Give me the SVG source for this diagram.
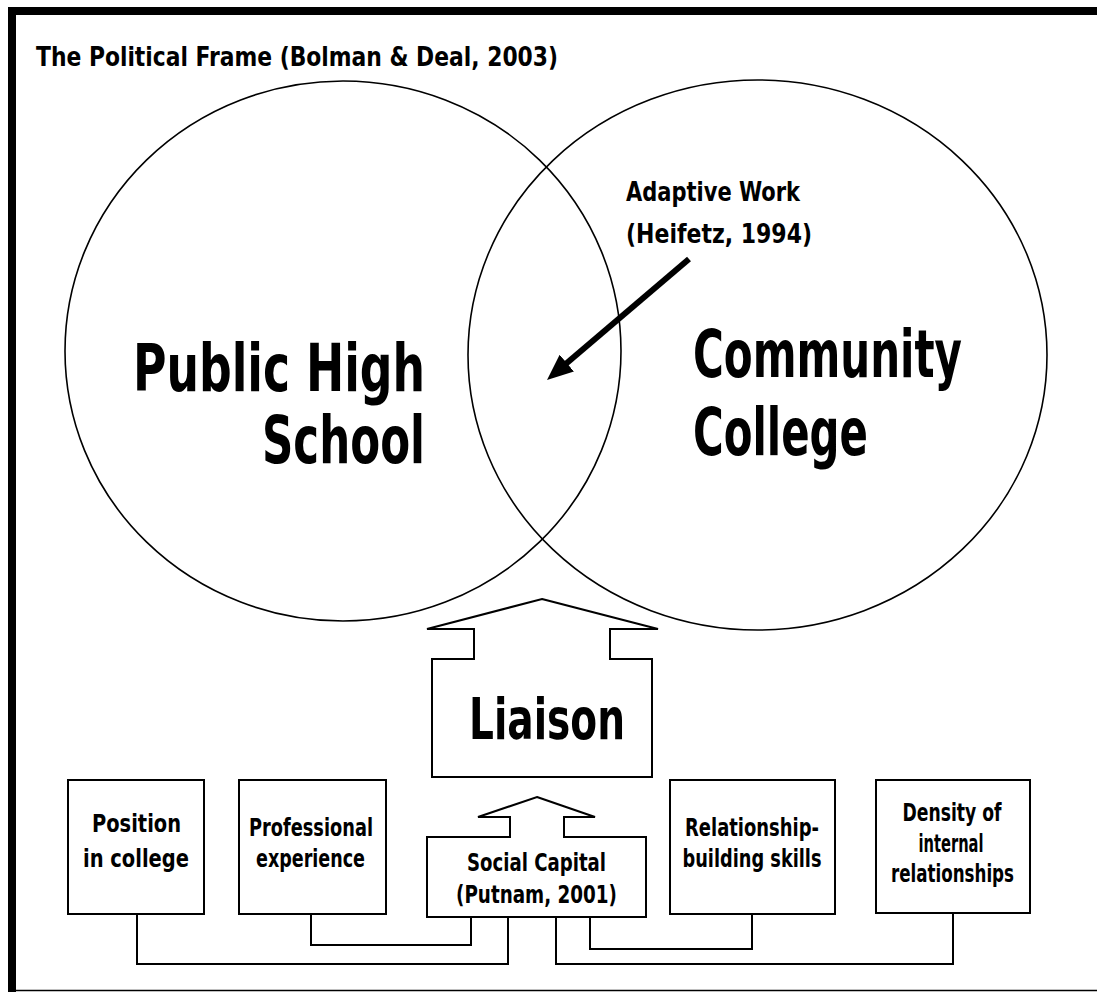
<svg xmlns="http://www.w3.org/2000/svg" width="1097" height="992" viewBox="0 0 1097 992">
  <style>
    text { font-family: "Liberation Sans Narrow", "DejaVu Sans Condensed", "Liberation Sans", sans-serif; font-weight: bold; fill: #000; }
    .title { font-size: 27px; }
    .note { font-size: 26px; }
    .big { font-size: 66px; }
    .mid { font-size: 57px; }
    .small { font-size: 25px; text-anchor: middle; }
    .ring { fill: none; stroke: #000; stroke-width: 1.6; }
    .box { fill: #fff; stroke: #000; stroke-width: 2; }
    .wire { fill: none; stroke: #000; stroke-width: 2; }
  </style>
  <defs>
    <marker id="head" markerUnits="userSpaceOnUse" markerWidth="28" markerHeight="24" refX="8" refY="11" orient="auto" viewBox="0 0 28 24">
      <path d="M0,0 L26,11 L0,22 Z" fill="#000"/>
    </marker>
  </defs>

  <rect width="1097" height="992" fill="#fff"/>

  <!-- page frame -->
  <g id="frame">
    <rect x="8" y="7" width="1089" height="8" fill="#000"/>
    <rect x="8" y="7" width="8" height="985" fill="#000"/>
    <line x1="16" y1="990.5" x2="1097" y2="990.5" stroke="#000" stroke-width="1.6"/>
  </g>

  <g id="title">
    <text class="title" x="36" y="66" textLength="522" lengthAdjust="spacingAndGlyphs">The Political Frame (Bolman &amp; Deal, 2003)</text>
  </g>

  <!-- overlapping spheres -->
  <g id="high-school">
    <ellipse class="ring" cx="343" cy="351" rx="278" ry="270"/>
    <text class="big" x="133" y="391" textLength="292" lengthAdjust="spacingAndGlyphs">Public High</text>
    <text class="big" x="262" y="463" textLength="163" lengthAdjust="spacingAndGlyphs">School</text>
  </g>

  <g id="community-college">
    <ellipse class="ring" cx="757.5" cy="355" rx="289.5" ry="275"/>
    <text class="big" x="693" y="377" textLength="269" lengthAdjust="spacingAndGlyphs">Community</text>
    <text class="big" x="693" y="455" textLength="175" lengthAdjust="spacingAndGlyphs">College</text>
  </g>

  <g id="adaptive-work">
    <text class="note" x="626" y="201" textLength="174" lengthAdjust="spacingAndGlyphs">Adaptive Work</text>
    <text class="note" x="626" y="243" textLength="186" lengthAdjust="spacingAndGlyphs">(Heifetz, 1994)</text>
  </g>

  <!-- liaison block arrow -->
  <g id="liaison">
    <polygon class="box" points="542,599 658,629 610,629 610,659 652,659 652,777 432,777 432,659 474,659 474,629 427,629"/>
    <text class="mid" x="469" y="739" textLength="156" lengthAdjust="spacingAndGlyphs">Liaison</text>
  </g>

  <!-- social capital block arrow -->
  <g id="social-capital">
    <polygon class="box" points="537,797 595,817 564,817 564,837 646,837 646,917 427,917 427,837 510,837 510,817 478,817"/>
    <text class="small" x="536.5" y="871" textLength="139" lengthAdjust="spacingAndGlyphs">Social Capital</text>
    <text class="small" x="536.5" y="903" textLength="161" lengthAdjust="spacingAndGlyphs">(Putnam, 2001)</text>
  </g>

  <g id="position">
    <rect class="box" x="68" y="780" width="136" height="134"/>
    <text class="small" x="136.5" y="832" textLength="89" lengthAdjust="spacingAndGlyphs">Position</text>
    <text class="small" x="136" y="867" textLength="106" lengthAdjust="spacingAndGlyphs">in college</text>
  </g>

  <g id="experience">
    <rect class="box" x="239" y="780" width="147" height="134"/>
    <text class="small" x="311" y="836" textLength="124" lengthAdjust="spacingAndGlyphs">Professional</text>
    <text class="small" x="310.5" y="867" textLength="109" lengthAdjust="spacingAndGlyphs">experience</text>
  </g>

  <g id="skills">
    <rect class="box" x="670" y="780" width="165" height="134"/>
    <text class="small" x="752" y="836" textLength="134" lengthAdjust="spacingAndGlyphs">Relationship-</text>
    <text class="small" x="752" y="867" textLength="139" lengthAdjust="spacingAndGlyphs">building skills</text>
  </g>

  <g id="density">
    <rect class="box" x="876" y="780" width="154" height="133"/>
    <text class="small" x="952" y="821" textLength="99" lengthAdjust="spacingAndGlyphs">Density of</text>
    <text class="small" x="951" y="852" textLength="65" lengthAdjust="spacingAndGlyphs">internal</text>
    <text class="small" x="952.5" y="882" textLength="123" lengthAdjust="spacingAndGlyphs">relationships</text>
  </g>

  <!-- connectors -->
  <g id="connectors">
    <line x1="689" y1="259" x2="560.7" y2="368.3" stroke="#000" stroke-width="6" marker-end="url(#head)"/>
    <path class="wire" d="M137,914 V964 H508 V917"/>
    <path class="wire" d="M311,914 V945 H471 V917"/>
    <path class="wire" d="M590,917 V949 H752 V914"/>
    <path class="wire" d="M556,917 V964 H953 V913"/>
  </g>
</svg>
